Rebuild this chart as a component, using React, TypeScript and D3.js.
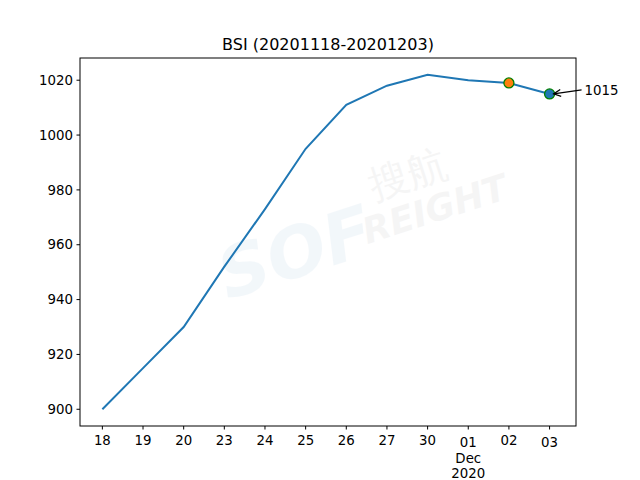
import React from 'react'
import * as d3 from 'd3'

const days = ['18', '19', '20', '23', '24', '25', '26', '27', '30', '01', '02', '03']
const bsi = [900, 915, 930, 952, 973, 995, 1011, 1018, 1022, 1020, 1019, 1015]
const yTicks = [900, 920, 940, 960, 980, 1000, 1020]

export default function App() {
  const width = 640
  const height = 480
  const margin = { top: 58, right: 64, bottom: 54, left: 80 }
  const innerW = width - margin.left - margin.right
  const innerH = height - margin.top - margin.bottom

  const n = days.length
  // slightly wider right margin than left, as in the original
  const x = d3.scaleLinear().domain([-0.55, n - 1 + 0.65]).range([0, innerW])
  const [lo, hi] = d3.extent(bsi) as [number, number]
  const yPad = (hi - lo) * 0.05
  const y = d3.scaleLinear().domain([lo - yPad, hi + yPad]).range([innerH, 0])

  const line = d3.line<number>()
    .x((_, i) => x(i))
    .y(d => y(d))

  const font = 'DejaVu Sans, sans-serif'
  const last = n - 1
  const prev = n - 2
  const px = x(last)
  const py = y(bsi[last])
  const tipX = px + 4
  const tailX = px + 32
  const tailY = py - 4
  const ang = Math.atan2(tailY - py, tailX - tipX)
  const head = (a: number) => [tipX + 8 * Math.cos(ang + a), py + 8 * Math.sin(ang + a)]
  const h1 = head(0.45)
  const h2 = head(-0.45)

  return (
    <svg width={width} height={height} style={{ position: 'absolute', left: 0, top: 0 }} fontFamily={font}>
      <rect width={width} height={height} fill="#fff" />
      <text x={margin.left + innerW / 2} y={50} textAnchor="middle" fontSize={16}>
        BSI (20201118-20201203)
      </text>
      <g transform={`translate(${margin.left},${margin.top})`}>
        {/* faint watermark */}
        <g transform="translate(240,170) rotate(-18)" opacity={0.05} fill="#1f77b4">
          <text x={-110} y={40} fontSize={70} fontStyle="italic" fontWeight="bold">SOF</text>
          <text x={60} y={-10} fontSize={40} fill="#555">搜航</text>
          <text x={40} y={30} fontSize={36} fontStyle="italic" fontWeight="bold" fill="#555">REIGHT</text>
        </g>
        <path d={line(bsi) || ''} fill="none" stroke="#1f77b4" strokeWidth={2} />
        <circle cx={x(prev)} cy={y(bsi[prev])} r={5} fill="#ff7f0e" stroke="green" strokeWidth={1.3} />
        <circle cx={px} cy={py} r={5} fill="#1f77b4" stroke="green" strokeWidth={1.3} />
        <line x1={tailX} y1={tailY} x2={tipX} y2={py} stroke="#000" strokeWidth={1.2} />
        <path d={`M${h1[0]},${h1[1]} L${tipX},${py} L${h2[0]},${h2[1]}`} fill="none" stroke="#000" strokeWidth={1.2} />
        <text x={px + 35} y={py - 4} dy="0.35em" fontSize={13.33}>{bsi[last]}</text>
        <rect x={0} y={0} width={innerW} height={innerH} fill="none" stroke="#000" strokeWidth={1} />
        {yTicks.map(t => (
          <g key={t} transform={`translate(0,${y(t)})`}>
            <line x1={0} x2={-3.5} stroke="#000" />
            <text x={-7} dy="0.35em" textAnchor="end" fontSize={13.33}>{t}</text>
          </g>
        ))}
        {days.map((d, i) => (
          <g key={i} transform={`translate(${x(i)},${innerH})`}>
            <line y1={0} y2={3.5} stroke="#000" />
            <text y={19} textAnchor="middle" fontSize={13.33} dy={d === '01' || d === '03' ? 2 : 0}>{d}</text>
            {d === '01' && (
              <>
                <text y={37} textAnchor="middle" fontSize={13.33}>Dec</text>
                <text y={52} textAnchor="middle" fontSize={13.33}>2020</text>
              </>
            )}
          </g>
        ))}
      </g>
    </svg>
  )
}
